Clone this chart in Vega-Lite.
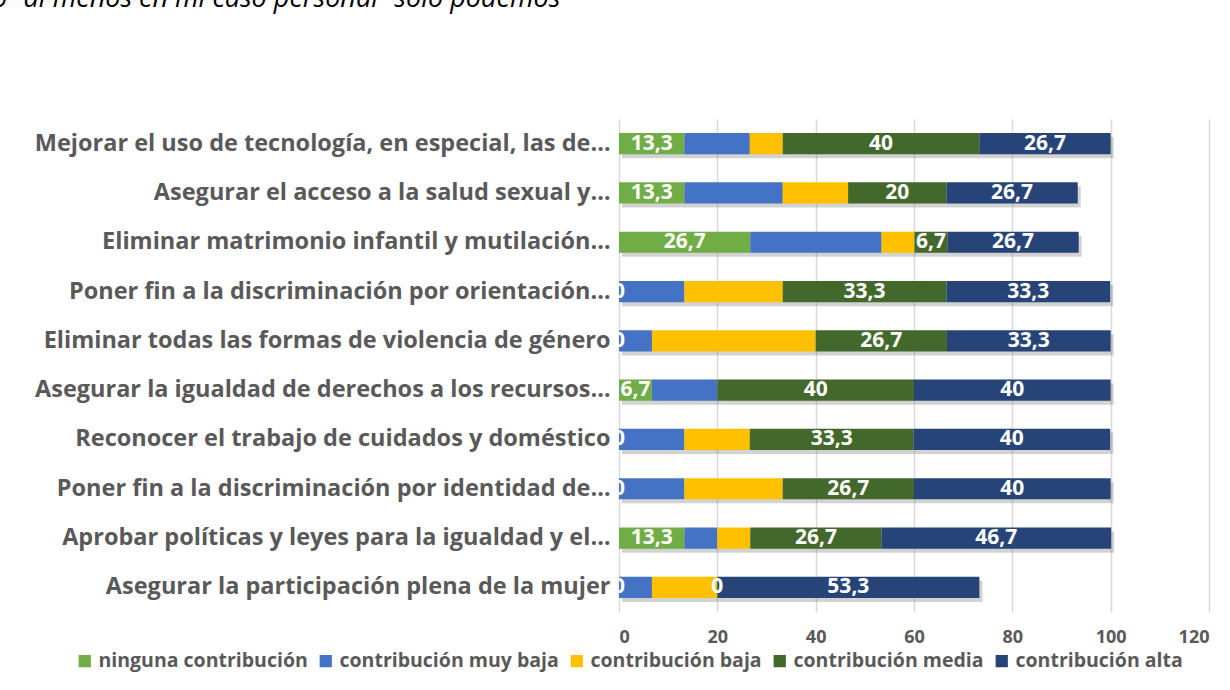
{
  "$schema": "https://vega.github.io/schema/vega-lite/v6.json",
  "autosize": "none",
  "width": 590,
  "height": 493,
  "padding": {"left": 619, "top": 119, "right": 21, "bottom": 78},
  "background": "white",
  "config": {
    "locale": {"number": {"decimal": ",", "thousands": ".", "grouping": [3], "currency": ["", " €"]}},
    "view": {"stroke": null},
    "font": "Open Sans"
  },
  "title": {
    "text": "o “al menos en mi caso personal” sólo podemos",
    "orient": "top",
    "anchor": "start",
    "frame": "group",
    "baseline": "alphabetic",
    "offset": 105,
    "dy": 20,
    "dx": -627,
    "font": "Open Sans",
    "fontStyle": "italic",
    "fontWeight": "normal",
    "fontSize": 27,
    "color": "#000000"
  },
  "data": {
    "values": [
      {"accion": "Mejorar el uso de tecnología, en especial, las de…", "serie": "ninguna contribución", "valor": 13.3},
      {"accion": "Mejorar el uso de tecnología, en especial, las de…", "serie": "contribución muy baja", "valor": 13.3},
      {"accion": "Mejorar el uso de tecnología, en especial, las de…", "serie": "contribución baja", "valor": 6.7},
      {"accion": "Mejorar el uso de tecnología, en especial, las de…", "serie": "contribución media", "valor": 40},
      {"accion": "Mejorar el uso de tecnología, en especial, las de…", "serie": "contribución alta", "valor": 26.7},

      {"accion": "Asegurar el acceso a la salud sexual y…", "serie": "ninguna contribución", "valor": 13.3},
      {"accion": "Asegurar el acceso a la salud sexual y…", "serie": "contribución muy baja", "valor": 20},
      {"accion": "Asegurar el acceso a la salud sexual y…", "serie": "contribución baja", "valor": 13.3},
      {"accion": "Asegurar el acceso a la salud sexual y…", "serie": "contribución media", "valor": 20},
      {"accion": "Asegurar el acceso a la salud sexual y…", "serie": "contribución alta", "valor": 26.7},

      {"accion": "Eliminar matrimonio infantil y mutilación…", "serie": "ninguna contribución", "valor": 26.7},
      {"accion": "Eliminar matrimonio infantil y mutilación…", "serie": "contribución muy baja", "valor": 26.7},
      {"accion": "Eliminar matrimonio infantil y mutilación…", "serie": "contribución baja", "valor": 6.7},
      {"accion": "Eliminar matrimonio infantil y mutilación…", "serie": "contribución media", "valor": 6.7},
      {"accion": "Eliminar matrimonio infantil y mutilación…", "serie": "contribución alta", "valor": 26.7},

      {"accion": "Poner fin a la discriminación por orientación…", "serie": "ninguna contribución", "valor": 0},
      {"accion": "Poner fin a la discriminación por orientación…", "serie": "contribución muy baja", "valor": 13.3},
      {"accion": "Poner fin a la discriminación por orientación…", "serie": "contribución baja", "valor": 20},
      {"accion": "Poner fin a la discriminación por orientación…", "serie": "contribución media", "valor": 33.3},
      {"accion": "Poner fin a la discriminación por orientación…", "serie": "contribución alta", "valor": 33.3},

      {"accion": "Eliminar todas las formas de violencia de género", "serie": "ninguna contribución", "valor": 0},
      {"accion": "Eliminar todas las formas de violencia de género", "serie": "contribución muy baja", "valor": 6.7},
      {"accion": "Eliminar todas las formas de violencia de género", "serie": "contribución baja", "valor": 33.3},
      {"accion": "Eliminar todas las formas de violencia de género", "serie": "contribución media", "valor": 26.7},
      {"accion": "Eliminar todas las formas de violencia de género", "serie": "contribución alta", "valor": 33.3},

      {"accion": "Asegurar la igualdad de derechos a los recursos…", "serie": "ninguna contribución", "valor": 6.7},
      {"accion": "Asegurar la igualdad de derechos a los recursos…", "serie": "contribución muy baja", "valor": 13.3},
      {"accion": "Asegurar la igualdad de derechos a los recursos…", "serie": "contribución baja", "valor": 0},
      {"accion": "Asegurar la igualdad de derechos a los recursos…", "serie": "contribución media", "valor": 40},
      {"accion": "Asegurar la igualdad de derechos a los recursos…", "serie": "contribución alta", "valor": 40},

      {"accion": "Reconocer el trabajo de cuidados y doméstico", "serie": "ninguna contribución", "valor": 0},
      {"accion": "Reconocer el trabajo de cuidados y doméstico", "serie": "contribución muy baja", "valor": 13.3},
      {"accion": "Reconocer el trabajo de cuidados y doméstico", "serie": "contribución baja", "valor": 13.3},
      {"accion": "Reconocer el trabajo de cuidados y doméstico", "serie": "contribución media", "valor": 33.3},
      {"accion": "Reconocer el trabajo de cuidados y doméstico", "serie": "contribución alta", "valor": 40},

      {"accion": "Poner fin a la discriminación por identidad de…", "serie": "ninguna contribución", "valor": 0},
      {"accion": "Poner fin a la discriminación por identidad de…", "serie": "contribución muy baja", "valor": 13.3},
      {"accion": "Poner fin a la discriminación por identidad de…", "serie": "contribución baja", "valor": 20},
      {"accion": "Poner fin a la discriminación por identidad de…", "serie": "contribución media", "valor": 26.7},
      {"accion": "Poner fin a la discriminación por identidad de…", "serie": "contribución alta", "valor": 40},

      {"accion": "Aprobar políticas y leyes para la igualdad y el…", "serie": "ninguna contribución", "valor": 13.3},
      {"accion": "Aprobar políticas y leyes para la igualdad y el…", "serie": "contribución muy baja", "valor": 6.7},
      {"accion": "Aprobar políticas y leyes para la igualdad y el…", "serie": "contribución baja", "valor": 6.7},
      {"accion": "Aprobar políticas y leyes para la igualdad y el…", "serie": "contribución media", "valor": 26.7},
      {"accion": "Aprobar políticas y leyes para la igualdad y el…", "serie": "contribución alta", "valor": 46.7},

      {"accion": "Asegurar la participación plena de la mujer", "serie": "ninguna contribución", "valor": 0},
      {"accion": "Asegurar la participación plena de la mujer", "serie": "contribución muy baja", "valor": 6.7},
      {"accion": "Asegurar la participación plena de la mujer", "serie": "contribución baja", "valor": 13.3},
      {"accion": "Asegurar la participación plena de la mujer", "serie": "contribución media", "valor": 0},
      {"accion": "Asegurar la participación plena de la mujer", "serie": "contribución alta", "valor": 53.3}
    ]
  },
  "transform": [
    {"calculate": "indexof(['ninguna contribución','contribución muy baja','contribución baja','contribución media','contribución alta'], datum.serie)", "as": "orden"},
    {"stack": "valor", "groupby": ["accion"], "sort": [{"field": "orden", "order": "ascending"}], "as": ["x0", "x1"]},
    {"calculate": "(datum.x0 + datum.x1) / 2", "as": "xm"}
  ],
  "encoding": {
    "y": {
      "field": "accion",
      "type": "nominal",
      "sort": [
        "Mejorar el uso de tecnología, en especial, las de…",
        "Asegurar el acceso a la salud sexual y…",
        "Eliminar matrimonio infantil y mutilación…",
        "Poner fin a la discriminación por orientación…",
        "Eliminar todas las formas de violencia de género",
        "Asegurar la igualdad de derechos a los recursos…",
        "Reconocer el trabajo de cuidados y doméstico",
        "Poner fin a la discriminación por identidad de…",
        "Aprobar políticas y leyes para la igualdad y el…",
        "Asegurar la participación plena de la mujer"
      ],
      "scale": {"paddingInner": 0.57, "paddingOuter": 0.285},
      "axis": {
        "title": null,
        "ticks": false,
        "domain": false,
        "labelFontSize": 23.5,
        "labelFontWeight": "bold",
        "labelColor": "#595959",
        "labelPadding": 9,
        "labelLimit": 800
      }
    },
    "x": {
      "field": "x0",
      "type": "quantitative",
      "scale": {"domain": [0, 120], "nice": false},
      "axis": {
        "title": null,
        "values": [0, 20, 40, 60, 80, 100, 120],
        "grid": true,
        "gridColor": "#d9d9d9",
        "gridWidth": 1.5,
        "domain": false,
        "ticks": false,
        "labelFontSize": 18,
        "labelFontWeight": "bold",
        "labelColor": "#595959",
        "labelPadding": 16,
        "format": "d"
      }
    }
  },
  "layer": [
    {
      "mark": {"type": "bar", "color": "#7f7f7f", "opacity": 0.35, "xOffset": 3, "x2Offset": 3, "yOffset": 4, "y2Offset": 4},
      "encoding": {
        "x2": {"field": "x1"}
      }
    },
    {
      "mark": {"type": "bar"},
      "encoding": {
        "x2": {"field": "x1"},
        "color": {
          "field": "serie",
          "type": "nominal",
          "scale": {
            "domain": ["ninguna contribución", "contribución muy baja", "contribución baja", "contribución media", "contribución alta"],
            "range": ["#70AD47", "#4472C4", "#FFC000", "#43682B", "#264478"]
          },
          "legend": {
            "title": null,
            "orient": "none",
            "direction": "horizontal",
            "legendX": -544,
            "legendY": 532,
            "symbolType": "square",
            "symbolSize": 150,
            "symbolStrokeWidth": 0,
            "symbolOpacity": 1,
            "labelFontSize": 19.5,
            "labelFontWeight": "bold",
            "labelColor": "#595959",
            "labelOffset": 4,
            "columnPadding": 8,
            "labelLimit": 400
          }
        }
      }
    },
    {
      "transform": [{"filter": "datum.serie === 'ninguna contribución' || datum.serie === 'contribución media' || datum.serie === 'contribución alta'"}],
      "mark": {"type": "text", "color": "white", "fontWeight": "bold", "fontSize": 21, "clip": true, "baseline": "middle"},
      "encoding": {
        "x": {"field": "xm", "type": "quantitative"},
        "text": {"field": "valor", "type": "quantitative", "format": ".1~f"}
      }
    }
  ]
}
